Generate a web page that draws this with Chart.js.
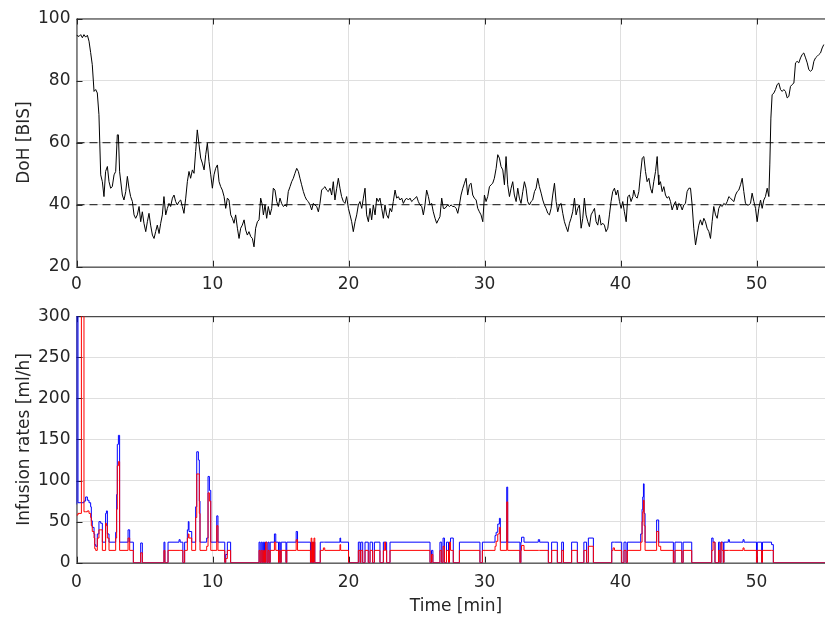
<!DOCTYPE html>
<html lang="en">
<head>
<meta charset="UTF-8">
<title>DoH and infusion rates</title>
<script src="https://cdn.jsdelivr.net/npm/chart.js@4.4.1/dist/chart.umd.min.js"></script>
<style>
  html, body { margin: 0; padding: 0; background: #fff; overflow: hidden; }
  .wrap { position: relative; width: 825px; height: 618px; overflow: hidden; }
  canvas { position: absolute; left: 0; }
  #topChart { top: 0; }
  #bottomChart { top: 300px; }
</style>
</head>
<body>
<div class="wrap">
  <canvas id="topChart" width="840" height="300"></canvas>
  <canvas id="bottomChart" width="840" height="318"></canvas>
</div>
<script>
// tick labels
const timeTicks = [0, 10, 20, 30, 40, 50];
const bisTicks = [20, 40, 60, 80, 100];
const rateTicks = [0, 50, 100, 150, 200, 250, 300];
const bisLimits = [40, 60];
const timeMax = 55.8;

// depth of hypnosis [time min, BIS]
const bisReadings = [
  [0, 94.6], [0.18, 94.2], [0.31, 94.8], [0.43, 93.8], [0.55, 94.8], [0.67, 94.0], [0.80, 94.6], [0.92, 92.7],
  [1.04, 89.0], [1.16, 85.1], [1.29, 76.5], [1.41, 77.1], [1.53, 76.0], [1.65, 69.0], [1.78, 49.6], [1.90, 47.4],
  [2.02, 42.6], [2.14, 50.7], [2.27, 52.3], [2.39, 47.4], [2.51, 45.3], [2.63, 45.8], [2.76, 49.6], [2.88, 50.7],
  [3.00, 62.5], [3.08, 62.5], [3.17, 50.6], [3.37, 43.1], [3.49, 41.5], [3.62, 44.2], [3.74, 49.1], [3.86, 45.3],
  [3.98, 42.6], [4.11, 41.0], [4.23, 36.7], [4.35, 35.6], [4.47, 36.7], [4.60, 39.4], [4.72, 34.5], [4.84, 37.7],
  [4.96, 34.0], [5.09, 31.3], [5.21, 34.5], [5.33, 37.2], [5.45, 33.4], [5.58, 30.2], [5.70, 29.1], [5.82, 31.3],
  [5.94, 33.4], [6.07, 30.7], [6.19, 34.0], [6.31, 36.7], [6.43, 42.6], [6.56, 36.7], [6.68, 38.8], [6.80, 40.4],
  [6.92, 39.4], [7.05, 42.1], [7.17, 43.1], [7.29, 41.0], [7.41, 39.9], [7.54, 41.0], [7.66, 41.5], [7.78, 39.4],
  [7.90, 37.2], [8.03, 42.1], [8.15, 47.4], [8.27, 50.7], [8.39, 48.5], [8.52, 51.2], [8.64, 50.1], [8.76, 57.1],
  [8.88, 64.1], [9.01, 59.3], [9.13, 55.0], [9.25, 53.4], [9.38, 51.2], [9.50, 56.1], [9.62, 59.8], [9.74, 53.9],
  [9.87, 49.6], [9.99, 45.3], [10.11, 49.6], [10.23, 51.7], [10.36, 52.8], [10.48, 47.4], [10.60, 45.8], [10.72, 44.7],
  [10.85, 42.6], [10.97, 38.8], [11.09, 42.1], [11.21, 41.5], [11.34, 36.7], [11.46, 35.6], [11.58, 34.0], [11.70, 36.7],
  [11.83, 32.4], [11.95, 29.1], [12.07, 32.4], [12.19, 33.4], [12.32, 35.1], [12.44, 31.8], [12.56, 30.2], [12.68, 31.3],
  [12.81, 29.7], [12.93, 29.1], [13.05, 26.4], [13.17, 32.4], [13.30, 34.5], [13.42, 35.1], [13.54, 42.1], [13.66, 39.9],
  [13.74, 36.7], [13.86, 39.9], [13.98, 35.6], [14.10, 39.4], [14.23, 36.7], [14.35, 38.8], [14.47, 45.3], [14.59, 44.7],
  [14.72, 41.0], [14.84, 39.4], [14.96, 42.1], [15.08, 40.4], [15.21, 39.4], [15.33, 39.9], [15.45, 39.4], [15.57, 44.2],
  [15.70, 45.8], [15.82, 47.4], [15.94, 48.5], [16.06, 50.1], [16.19, 51.7], [16.31, 50.7], [16.43, 48.5], [16.55, 46.4],
  [16.68, 44.2], [16.80, 42.6], [16.92, 41.5], [17.04, 41.0], [17.17, 39.9], [17.29, 38.3], [17.41, 40.4], [17.53, 39.9],
  [17.66, 39.4], [17.78, 37.7], [17.90, 40.4], [18.02, 44.7], [18.15, 45.3], [18.27, 45.8], [18.39, 44.7], [18.51, 44.2],
  [18.64, 45.3], [18.76, 43.1], [18.88, 47.4], [19.00, 41.5], [19.13, 45.3], [19.25, 48.5], [19.37, 45.3], [19.49, 42.6],
  [19.62, 41.0], [19.74, 40.4], [19.86, 42.6], [19.99, 38.8], [20.11, 36.7], [20.23, 34.5], [20.35, 31.3], [20.48, 34.5],
  [20.60, 36.7], [20.72, 39.9], [20.84, 41.0], [20.97, 38.8], [21.09, 42.1], [21.21, 45.3], [21.33, 36.7], [21.46, 34.5],
  [21.58, 38.8], [21.70, 35.1], [21.82, 39.9], [21.95, 36.7], [22.07, 42.1], [22.19, 41.0], [22.31, 42.1], [22.44, 38.8],
  [22.56, 35.6], [22.68, 39.9], [22.80, 36.7], [22.93, 35.6], [23.05, 38.8], [23.17, 37.7], [23.29, 41.0], [23.42, 44.7],
  [23.54, 42.1], [23.66, 42.6], [23.78, 41.5], [23.91, 42.1], [24.03, 40.4], [24.15, 41.5], [24.27, 42.1], [24.40, 41.5],
  [24.52, 42.1], [24.64, 41.0], [24.76, 41.5], [24.89, 42.1], [25.01, 42.6], [25.13, 41.0], [25.25, 39.9], [25.38, 39.4],
  [25.50, 36.7], [25.62, 39.9], [25.74, 44.7], [25.87, 42.6], [25.99, 39.9], [26.11, 40.4], [26.23, 37.7], [26.36, 35.6],
  [26.48, 34.0], [26.60, 35.1], [26.72, 36.1], [26.85, 42.1], [26.97, 38.8], [27.09, 38.8], [27.29, 39.9], [27.42, 39.4],
  [27.54, 39.9], [27.66, 39.4], [27.78, 39.4], [27.91, 38.8], [28.03, 37.2], [28.15, 39.9], [28.27, 43.1], [28.40, 45.3],
  [28.52, 46.9], [28.64, 48.5], [28.76, 43.1], [28.89, 46.4], [29.01, 46.9], [29.13, 43.1], [29.25, 42.1], [29.38, 41.5],
  [29.50, 38.8], [29.62, 37.7], [29.74, 36.7], [29.87, 34.5], [29.99, 43.1], [30.11, 41.0], [30.23, 42.6], [30.36, 45.8],
  [30.48, 46.4], [30.60, 46.9], [30.72, 48.5], [30.85, 51.7], [30.97, 56.1], [31.09, 55.0], [31.21, 52.3], [31.34, 51.2],
  [31.46, 46.4], [31.58, 55.5], [31.70, 46.4], [31.83, 42.6], [31.95, 45.3], [32.07, 47.4], [32.19, 43.1], [32.32, 41.0],
  [32.44, 45.3], [32.56, 42.1], [32.68, 40.4], [32.81, 44.2], [32.93, 47.4], [33.05, 45.3], [33.17, 41.0], [33.30, 39.9],
  [33.42, 41.0], [33.54, 41.5], [33.67, 44.2], [33.79, 45.3], [33.91, 48.5], [34.03, 45.8], [34.16, 43.7], [34.28, 41.5],
  [34.40, 39.9], [34.52, 38.8], [34.65, 37.2], [34.77, 36.7], [34.89, 38.8], [35.01, 43.1], [35.14, 46.9], [35.26, 41.0],
  [35.38, 37.7], [35.50, 39.9], [35.63, 40.4], [35.75, 37.2], [35.87, 34.5], [35.99, 32.9], [36.12, 31.3], [36.24, 34.0],
  [36.36, 35.6], [36.48, 37.7], [36.61, 42.1], [36.73, 36.7], [36.85, 38.8], [36.97, 39.9], [37.10, 32.4], [37.22, 35.6],
  [37.34, 42.1], [37.46, 36.7], [37.59, 34.5], [37.71, 32.9], [37.83, 36.7], [37.95, 37.7], [38.08, 38.8], [38.20, 34.5],
  [38.32, 33.4], [38.44, 36.7], [38.57, 33.4], [38.69, 34.0], [38.81, 33.4], [38.93, 31.3], [39.06, 32.4], [39.18, 36.7],
  [39.30, 41.0], [39.42, 44.2], [39.55, 45.3], [39.67, 43.1], [39.79, 44.7], [39.92, 41.0], [40.04, 38.8], [40.16, 41.0],
  [40.28, 37.7], [40.41, 34.5], [40.53, 42.6], [40.65, 43.1], [40.77, 41.0], [40.90, 42.6], [40.97, 44.7], [41.10, 42.6],
  [41.22, 42.1], [41.34, 44.2], [41.46, 49.6], [41.59, 55.0], [41.71, 55.5], [41.83, 50.7], [41.95, 47.4], [42.08, 48.5],
  [42.20, 45.3], [42.32, 43.7], [42.44, 47.4], [42.57, 50.7], [42.69, 55.5], [42.76, 49.6], [42.81, 46.4], [42.93, 47.4],
  [43.06, 44.2], [43.18, 45.8], [43.30, 43.1], [43.42, 42.1], [43.55, 42.6], [43.67, 41.0], [43.79, 38.3], [43.91, 39.9],
  [44.04, 41.0], [44.16, 38.3], [44.28, 40.4], [44.40, 39.9], [44.53, 38.3], [44.65, 39.9], [44.77, 40.4], [44.89, 44.2],
  [45.02, 45.3], [45.14, 45.3], [45.26, 39.9], [45.38, 32.4], [45.51, 27.0], [45.63, 30.2], [45.75, 33.4], [45.87, 35.1],
  [46.00, 33.4], [46.12, 35.6], [46.24, 34.5], [46.36, 32.4], [46.49, 31.3], [46.61, 29.1], [46.73, 34.5], [46.85, 39.4],
  [46.98, 36.7], [47.10, 35.6], [47.22, 38.8], [47.35, 39.9], [47.47, 39.4], [47.59, 40.4], [47.71, 39.9], [47.84, 41.0],
  [47.96, 42.6], [48.08, 42.1], [48.20, 41.5], [48.33, 41.0], [48.45, 43.1], [48.57, 44.2], [48.69, 44.7], [48.82, 46.4],
  [48.94, 48.5], [49.06, 44.2], [49.18, 40.4], [49.31, 39.9], [49.43, 39.9], [49.55, 40.4], [49.67, 43.7], [49.80, 41.0],
  [49.92, 38.8], [50.04, 34.5], [50.16, 38.8], [50.29, 41.5], [50.41, 38.8], [50.53, 41.5], [50.65, 42.6], [50.78, 45.3],
  [50.90, 42.6], [50.97, 52.8], [51.05, 67.9], [51.14, 75.4], [51.27, 76.0], [51.39, 77.1], [51.51, 78.7], [51.63, 79.2],
  [51.76, 77.1], [51.88, 76.5], [52.00, 77.1], [52.12, 76.5], [52.25, 74.4], [52.37, 74.9], [52.49, 78.1], [52.61, 78.7],
  [52.74, 79.2], [52.86, 85.7], [52.98, 86.2], [53.10, 85.7], [53.23, 87.3], [53.35, 88.4], [53.47, 88.9], [53.60, 87.3],
  [53.72, 85.7], [53.84, 83.5], [53.96, 83.0], [54.09, 83.5], [54.21, 86.2], [54.33, 87.3], [54.45, 87.8], [54.58, 88.4],
  [54.70, 88.9], [54.82, 90.5], [54.94, 91.6]
];

// infusion rates [start time min, blue ml/h, red ml/h], each held until the next row
const infusionSteps = [
  [0.00, 71, 58], [0.01, 350, 58], [0.11, 73, 60], [0.36, 73, 400], [0.55, 75, 62], [0.67, 80, 62], [0.80, 76, 63],
  [0.92, 73, 60], [1.04, 68, 55], [1.09, 51, 45], [1.16, 43, 38], [1.29, 35, 30], [1.34, 22, 17], [1.41, 20, 15],
  [1.53, 35, 30], [1.65, 50, 40], [1.78, 48, 40], [1.90, 25, 15], [2.14, 60, 48], [2.20, 63, 45], [2.27, 35, 30],
  [2.39, 25, 15], [2.88, 37, 30], [2.95, 83, 65], [3.00, 144, 118], [3.08, 155, 123], [3.17, 25, 15], [3.79, 40, 30],
  [3.91, 25, 15], [4.18, 0, 0], [4.72, 24, 12], [4.84, 0, 0], [6.43, 25, 15], [6.50, 0, 0], [6.73, 25, 15],
  [7.54, 28, 15], [7.62, 25, 15], [7.82, 0, 0], [7.95, 25, 15], [8.15, 40, 30], [8.22, 50, 35], [8.27, 38, 30],
  [8.47, 25, 15], [8.76, 68, 55], [8.84, 135, 108], [8.96, 125, 108], [9.03, 75, 60], [9.08, 25, 15], [9.57, 30, 20],
  [9.67, 105, 85], [9.77, 88, 75], [9.87, 25, 15], [10.31, 57, 45], [10.40, 25, 15], [10.90, 0, 0], [10.97, 10, 5],
  [11.09, 25, 15], [11.33, 0, 0], [13.42, 25, 15], [13.50, 0, 0], [13.58, 25, 15], [13.66, 0, 0], [13.74, 25, 15],
  [13.82, 0, 0], [13.90, 25, 25], [14.00, 0, 0], [14.08, 25, 15], [14.16, 0, 0], [14.24, 25, 15], [14.55, 35, 25],
  [14.65, 25, 15], [14.85, 0, 0], [14.90, 25, 15], [14.98, 0, 0], [15.05, 25, 15], [15.40, 0, 0], [15.46, 25, 15],
  [16.15, 38, 28], [16.25, 25, 15], [17.20, 0, 0], [17.25, 25, 30], [17.30, 0, 0], [17.35, 25, 25], [17.42, 0, 0],
  [17.46, 25, 30], [17.52, 0, 0], [17.92, 25, 15], [18.15, 25, 18], [18.25, 25, 15], [19.37, 30, 22], [19.42, 25, 15],
  [20.00, 0, 0], [20.72, 25, 15], [20.85, 0, 0], [20.90, 25, 15], [21.04, 0, 0], [21.21, 25, 15], [21.45, 0, 0],
  [21.58, 25, 15], [21.77, 0, 0], [21.90, 25, 15], [22.31, 0, 0], [22.56, 25, 15], [22.66, 25, 25], [22.72, 25, 15],
  [22.80, 0, 0], [23.05, 25, 15], [25.99, 0, 0], [26.10, 15, 10], [26.20, 0, 0], [26.72, 25, 15], [26.85, 0, 0],
  [26.95, 30, 20], [27.05, 0, 0], [27.20, 25, 15], [27.35, 0, 0], [27.42, 25, 25], [27.50, 30, 15], [27.70, 0, 0],
  [28.15, 25, 15], [29.66, 0, 0], [29.84, 25, 15], [30.77, 33, 20], [30.85, 37, 26], [30.97, 47, 35], [31.09, 54, 43],
  [31.16, 25, 15], [31.63, 92, 74], [31.70, 25, 15], [32.60, 0, 0], [32.67, 25, 15], [32.72, 31, 21], [32.90, 25, 15],
  [33.95, 28, 15], [34.05, 25, 15], [34.69, 0, 0], [34.93, 25, 15], [35.35, 0, 0], [35.67, 25, 15], [35.80, 0, 0],
  [36.40, 25, 15], [36.82, 0, 0], [37.30, 25, 15], [37.50, 0, 0], [37.63, 30, 20], [38.00, 0, 0], [39.35, 25, 15],
  [39.45, 25, 18], [39.55, 25, 15], [40.08, 0, 0], [40.25, 25, 15], [40.40, 0, 0], [40.50, 25, 15], [41.48, 35, 25],
  [41.58, 65, 50], [41.63, 80, 62], [41.68, 96, 76], [41.73, 60, 45], [41.80, 25, 15], [42.65, 52, 38], [42.80, 25, 20],
  [42.95, 25, 15], [43.88, 0, 0], [44.00, 25, 15], [44.50, 0, 0], [44.60, 25, 15], [45.23, 0, 0], [46.70, 30, 15],
  [46.80, 25, 25], [46.94, 0, 0], [47.20, 25, 15], [47.30, 0, 0], [47.38, 25, 25], [47.45, 25, 15], [47.55, 0, 0],
  [47.60, 25, 15], [47.92, 28, 15], [48.00, 25, 15], [49.00, 28, 18], [49.08, 25, 15], [49.99, 0, 0], [50.05, 25, 15],
  [50.37, 0, 0], [50.43, 25, 15], [51.10, 22, 15], [51.23, 0, 0], [55.80, 0, 0]
];

const axisColor = '#262626';
const gridColor = '#dfdfdf';
const fontFamily = '"DejaVu Sans", sans-serif';

// MATLAB style box with inward ticks
const framePlugin = {
  id: 'frame',
  beforeDatasetsDraw(chart) {
    const { ctx, chartArea: a, scales } = chart;
    ctx.save();
    ctx.strokeStyle = axisColor;
    ctx.lineWidth = 1;
    ctx.strokeRect(a.left + 0.5, a.top + 0.5, a.right - a.left, a.bottom - a.top);
    ctx.beginPath();
    scales.x.ticks.forEach(t => {
      const px = Math.round(scales.x.getPixelForValue(t.value)) + 0.5;
      ctx.moveTo(px, a.top); ctx.lineTo(px, a.top + 6);
      ctx.moveTo(px, a.bottom); ctx.lineTo(px, a.bottom - 6);
    });
    scales.y.ticks.forEach(t => {
      const py = Math.round(scales.y.getPixelForValue(t.value)) + 0.5;
      ctx.moveTo(a.left, py); ctx.lineTo(a.left + 6, py);
      ctx.moveTo(a.right, py); ctx.lineTo(a.right - 6, py);
    });
    ctx.stroke();
    ctx.restore();
  }
};

function xScale(height, labelPad, withTitle) {
  return {
    type: 'linear', min: 0, max: timeMax,
    afterBuildTicks: s => { s.ticks = timeTicks.map(v => ({ value: v })); },
    afterFit: s => { s.height = height; },
    ticks: { padding: labelPad, color: axisColor, font: { family: fontFamily, size: 17 }, maxRotation: 0 },
    grid: { color: gridColor, drawTicks: false },
    border: { display: false },
    title: {
      display: withTitle, text: 'Time [min]', color: axisColor,
      font: { family: fontFamily, size: 17 }, padding: { top: 0, bottom: 1.3 }
    }
  };
}

function yScale(min, max, ticks, label) {
  return {
    min: min, max: max,
    afterBuildTicks: s => { s.ticks = ticks.map(v => ({ value: v })); },
    afterFit: s => { s.width = 76.5; },
    ticks: { padding: 6, color: axisColor, font: { family: fontFamily, size: 17 } },
    grid: { color: gridColor, drawTicks: false },
    border: { display: false },
    title: {
      display: true, text: label, color: axisColor,
      font: { family: fontFamily, size: 17 }, padding: { top: 14, bottom: 0 }
    }
  };
}

const commonPlugins = { legend: { display: false }, tooltip: { enabled: false } };

// top: depth of hypnosis
new Chart(document.getElementById('topChart'), {
  type: 'line',
  data: {
    datasets: [
      {
        data: bisReadings.map(r => ({ x: r[0], y: r[1] })),
        borderColor: '#000', borderWidth: 1, pointRadius: 0, tension: 0
      },
      ...bisLimits.map(v => ({
        data: [{ x: 0, y: v }, { x: timeMax, y: v }],
        borderColor: '#3a3a3a', borderWidth: 1.2, borderDash: [8, 5], pointRadius: 0
      }))
    ]
  },
  options: {
    responsive: false, animation: false,
    layout: { padding: { top: 18.5, right: 4.5, left: 0, bottom: 0 } },
    plugins: commonPlugins,
    scales: { x: xScale(33.3, 8, false), y: yScale(20, 100, bisTicks, 'DoH [BIS]') }
  },
  plugins: [framePlugin]
});

// bottom: infusion rates (red listed first so it is drawn on top)
new Chart(document.getElementById('bottomChart'), {
  type: 'line',
  data: {
    datasets: [
      {
        data: infusionSteps.map(r => ({ x: r[0], y: r[2] })),
        borderColor: '#ff0000', borderWidth: 1, pointRadius: 0, stepped: 'before'
      },
      {
        data: infusionSteps.map(r => ({ x: r[0], y: r[1] })),
        borderColor: '#0000ff', borderWidth: 1, pointRadius: 0, stepped: 'before'
      }
    ]
  },
  options: {
    responsive: false, animation: false,
    layout: { padding: { top: 13.3, right: 4.5, left: 0, bottom: 0 } },
    plugins: commonPlugins,
    scales: { x: xScale(55.3, 9.6, true), y: yScale(0, 300, rateTicks, 'Infusion rates [ml/h]') }
  },
  plugins: [framePlugin]
});
</script>
</body>
</html>
